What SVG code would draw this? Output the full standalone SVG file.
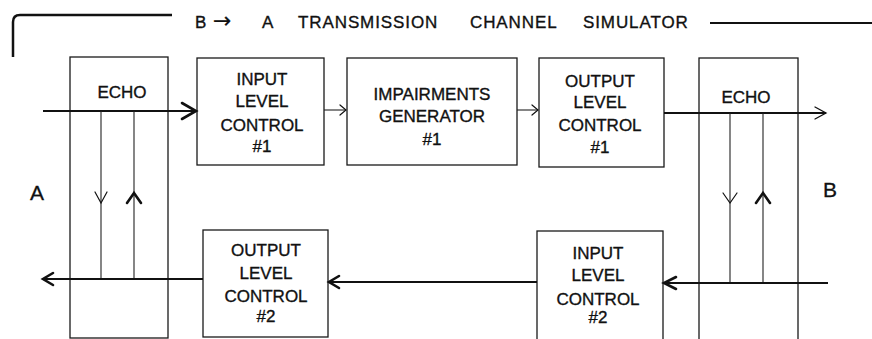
<svg xmlns="http://www.w3.org/2000/svg" width="872" height="339" viewBox="0 0 872 339">
<style>
.bg{fill:#fff}
.box{fill:none;stroke:#1a1a1a;stroke-width:1.3}
.t{font-family:"Liberation Sans",Arial,sans-serif;font-size:17px;fill:#111;text-anchor:middle;stroke:#111;stroke-width:0.35}
.title{font-family:"Liberation Sans",Arial,sans-serif;font-size:17px;fill:#111;letter-spacing:0.9px;stroke:#111;stroke-width:0.35}
.arr{font-family:"DejaVu Sans",sans-serif;font-size:22px;letter-spacing:0;stroke-width:0.2}
.lbl{font-family:"Liberation Sans",Arial,sans-serif;font-size:21px;fill:#111;text-anchor:middle;stroke:#111;stroke-width:0.3}
.thick{fill:none;stroke:#111;stroke-width:2}
.thin{fill:none;stroke:#222;stroke-width:1.1}
.ah{fill:none;stroke:#111;stroke-linecap:round;stroke-linejoin:miter}
</style>
<rect class="bg" x="0" y="0" width="872" height="339"/>

<g id="title">
<path class="thick" d="M13,57 V22 Q13,15 20,15 H172" style="stroke-width:2.5"/>
<line class="thick" x1="710" y1="23" x2="872" y2="23"/>
<text class="title" y="28"><tspan x="195">B</tspan><tspan class="arr" x="213">→</tspan><tspan x="262">A</tspan><tspan x="298">TRANSMISSION</tspan><tspan x="470">CHANNEL</tspan><tspan x="583">SIMULATOR</tspan></text>
</g>

<g id="labelA"><text class="lbl" x="37" y="200">A</text></g>
<g id="labelB"><text class="lbl" x="830" y="197">B</text></g>

<g id="echoA">
<rect class="box" x="70" y="57" width="98" height="281"/>
<text class="t" x="122" y="98">ECHO</text>
</g>

<g id="ilc1">
<rect class="box" x="197" y="58" width="127" height="107"/>
<text class="t" x="262" y="85">INPUT</text>
<text class="t" x="262" y="107">LEVEL</text>
<text class="t" x="262" y="131">CONTROL</text>
<text class="t" x="262" y="152">#1</text>
</g>

<g id="imp">
<rect class="box" x="347" y="58" width="170" height="107"/>
<text class="t" x="432" y="100">IMPAIRMENTS</text>
<text class="t" x="432" y="122">GENERATOR</text>
<text class="t" x="432" y="145">#1</text>
</g>

<g id="olc1">
<rect class="box" x="539" y="58" width="125" height="109"/>
<text class="t" x="600" y="87">OUTPUT</text>
<text class="t" x="600" y="108">LEVEL</text>
<text class="t" x="600" y="131">CONTROL</text>
<text class="t" x="600" y="153">#1</text>
</g>

<g id="echoB">
<rect class="box" x="699" y="58" width="99" height="285"/>
<text class="t" x="746" y="103">ECHO</text>
</g>

<g id="olc2">
<rect class="box" x="203" y="230" width="125" height="107"/>
<text class="t" x="266" y="256">OUTPUT</text>
<text class="t" x="266" y="279">LEVEL</text>
<text class="t" x="266" y="302">CONTROL</text>
<text class="t" x="266" y="322">#2</text>
</g>

<g id="ilc2">
<rect class="box" x="537" y="231" width="126" height="110"/>
<text class="t" x="598" y="259">INPUT</text>
<text class="t" x="598" y="281">LEVEL</text>
<text class="t" x="598" y="305">CONTROL</text>
<text class="t" x="598" y="323">#2</text>
</g>

<g id="connectors">
<line class="thick" x1="43" y1="111" x2="196" y2="111"/>
<polyline class="ah" style="stroke-width:2.6" points="182,103 196,111 182,119"/>
<line class="thin" x1="324" y1="110" x2="346" y2="110"/>
<polyline class="ah" style="stroke-width:1.2" points="340,105 346,110 340,115"/>
<line class="thin" x1="517" y1="110" x2="538" y2="110"/>
<polyline class="ah" style="stroke-width:1.2" points="532,105 538,110 532,115"/>
<line class="thick" x1="664" y1="113" x2="826" y2="113"/>
<polyline class="ah" style="stroke-width:1.3" points="815,107 826,113 815,119"/>
<line class="thin" x1="101" y1="111" x2="101" y2="279"/>
<polyline class="ah" style="stroke-width:1.2" points="95,192 101,203 107,192"/>
<line class="thin" x1="134" y1="111" x2="134" y2="279"/>
<polyline class="ah" style="stroke-width:2.6" points="127,203 134,193 141,203"/>
<line class="thin" x1="730" y1="113" x2="730" y2="283"/>
<polyline class="ah" style="stroke-width:1.2" points="723,193 730,203 737,193"/>
<line class="thin" x1="763" y1="113" x2="763" y2="283"/>
<polyline class="ah" style="stroke-width:2.6" points="756,203 763,193 770,203"/>
<line class="thick" x1="828" y1="283" x2="664" y2="283"/>
<polyline class="ah" style="stroke-width:2.6" points="676,277 664,283 676,289"/>
<line class="thick" x1="537" y1="282" x2="329" y2="282"/>
<polyline class="ah" style="stroke-width:2.6" points="339,276 329,282 339,288"/>
<line class="thick" x1="203" y1="279" x2="43" y2="279"/>
<polyline class="ah" style="stroke-width:2.6" points="53,273 43,279 53,285"/>
</g>
</svg>
